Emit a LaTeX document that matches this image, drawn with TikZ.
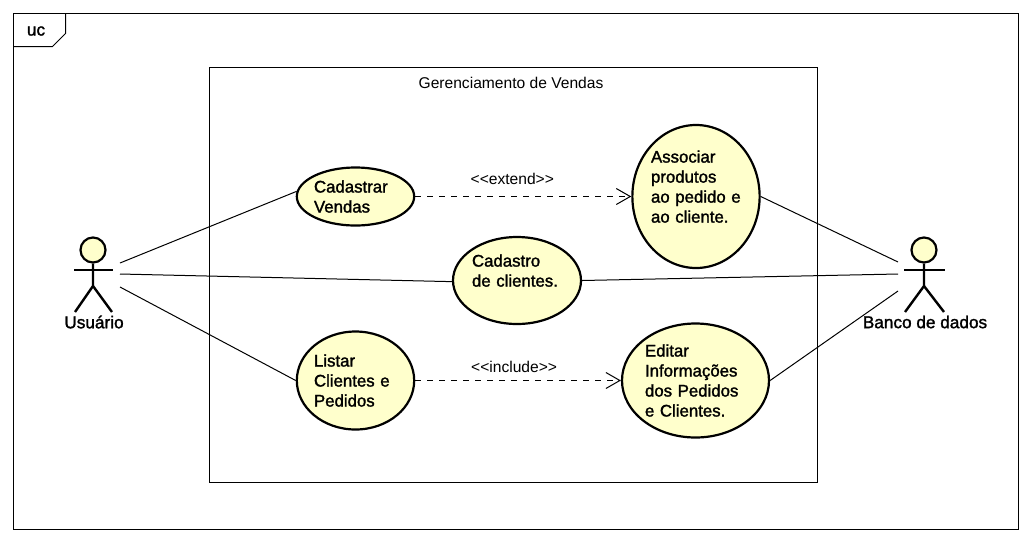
\documentclass[tikz,border=0pt]{standalone}
\usepackage{fontspec}
\setmainfont{Liberation Sans}
\newfontfamily\boldish[FakeBold=1.6]{Liberation Sans}
\usetikzlibrary{shapes.geometric,arrows.meta}
\definecolor{ucfill}{RGB}{255,255,204}
\tikzset{
  usecase/.style={draw,ellipse,line width=2.2pt,fill=ucfill,inner sep=0pt,align=left,
    font=\fontsize{16.8}{20}\boldish},
  person/.style={draw,circle,line width=2.2pt,fill=ucfill,minimum size=25pt,inner sep=0pt},
  limb/.style={line width=2.4pt},
  actorname/.style={font=\fontsize{17.2}{20}\boldish},
  thintext/.style={font=\fontsize{15.6}{18}\selectfont},
  frameline/.style={line width=1pt},
  assoc/.style={line width=1pt},
  dep/.style={line width=1pt,dash pattern=on 6pt off 6pt,
    -{Straight Barb[length=14pt,width=16pt,line width=1pt]}}
}
\begin{document}
\begin{tikzpicture}[x=1pt,y=-1pt]
  \useasboundingbox (0,0) rectangle (1032,542);
  \draw[frameline] (13.5,13.5) rectangle (1018.5,529.5);
  \node[actorname] (uc) at (36,31) {uc};
  \draw[frameline] (13.5,46.5) -- (52.5,46.5) -- (65.5,33.5) -- (65.5,13.5);
  \draw[frameline] (209.5,67.5) rectangle (817.5,482.5);
  \node[thintext] (system) at (511,83) {Gerenciamento de Vendas};

  \node[usecase,minimum width=117pt,minimum height=58pt,text width=83pt] (cadastrar) at (355.5,196.5)
    {Cadastrar\\Vendas};
  \node[usecase,minimum width=127pt,minimum height=143pt,text width=90pt] (associar) at (696,196.5)
    {Associar\\produtos\\\mbox{ao pedido e}\\ao cliente.\\\mbox{}};
  \node[usecase,minimum width=128pt,minimum height=87pt,text width=90pt] (cadastro) at (517,280.5)
    {Cadastro\\de clientes.\\\mbox{}};
  \node[usecase,minimum width=117pt,minimum height=98pt,text width=83pt] (listar) at (355.5,380.5)
    {Listar\\Clientes e\\Pedidos};
  \node[usecase,minimum width=147pt,minimum height=114pt,text width=101pt] (editar) at (695.5,380.5)
    {Editar\\Informações\\dos Pedidos\\e Clientes.};

  \node[person] (usuario) at (93,250) {};
  \draw[limb] (usuario.south) -- (93,286) -- (75,312);
  \draw[limb] (93,286) -- (112,312);
  \draw[limb] (74,270) -- (113,270);
  \node[actorname] (usuarioname) at (94,322) {Usuário};
  \coordinate (usuarioA) at (120,263);
  \coordinate (usuarioB) at (120,274);
  \coordinate (usuarioC) at (120,287);

  \node[person] (banco) at (924,250) {};
  \draw[limb] (banco.south) -- (924,286) -- (905,312);
  \draw[limb] (924,286) -- (944,312);
  \draw[limb] (904,270) -- (945,270);
  \node[actorname] (banconame) at (925,322) {Banco de dados};
  \coordinate (bancoA) at (898,262);
  \coordinate (bancoB) at (898,274);
  \coordinate (bancoC) at (898,291);

  \draw[assoc] (usuarioA) -- (cadastrar.175);
  \draw[assoc] (usuarioB) -- (cadastro.181);
  \draw[assoc] (usuarioC) -- (listar.west);
  \draw[assoc] (associar.east) -- (bancoA);
  \draw[assoc] (cadastro.east) -- (bancoB);
  \draw[assoc] (editar.east) -- (bancoC);

  \draw[dep] (cadastrar.east) -- (associar.west) node[thintext,midway,above=8pt,xshift=-11pt] {<{}<extend>{}>};
  \draw[dep] (listar.east) -- (editar.west) node[thintext,midway,above=4pt,xshift=-4pt] {<{}<include>{}>};
\end{tikzpicture}
\end{document}
